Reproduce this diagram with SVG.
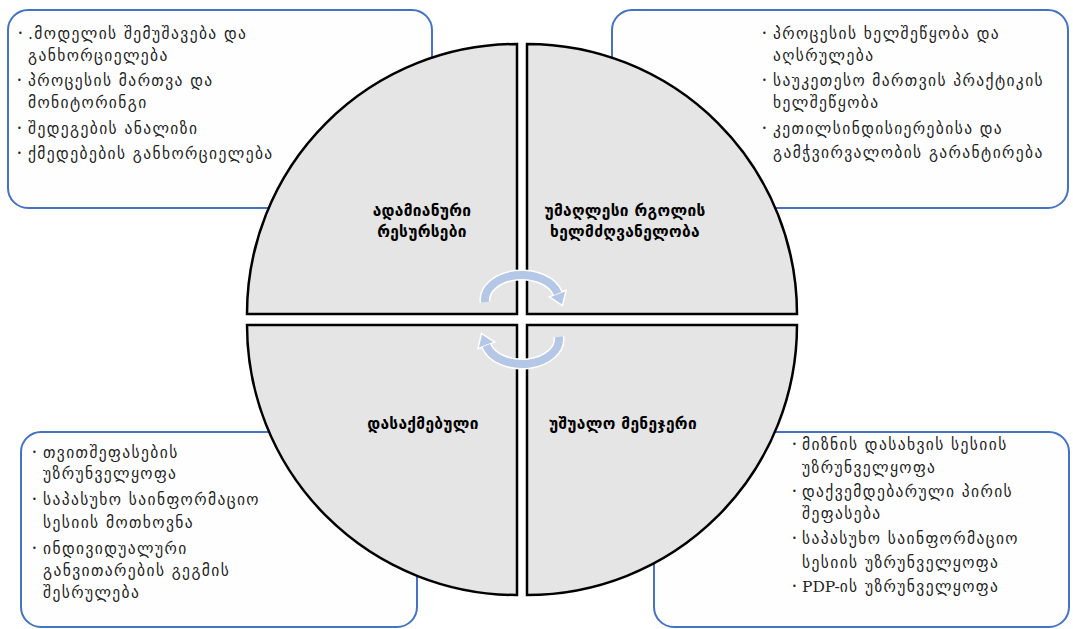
<svg xmlns="http://www.w3.org/2000/svg" width="1073" height="629" viewBox="0 0 1073 629">
<style>
.box{fill:#fefefe;stroke:#4472c4;stroke-width:2}
.q{fill:#e5e5e5;stroke:#000;stroke-width:2.5}
.t{font-family:"DejaVu Sans","Noto Sans",sans-serif;font-size:15.5px;letter-spacing:1.4px;fill:#222}
.s{font-family:"DejaVu Serif","Liberation Serif",serif;letter-spacing:0}
.b{font-family:"DejaVu Sans","Noto Sans",sans-serif;font-size:8px;fill:#222}
.h{font-family:"DejaVu Sans","Noto Sans",sans-serif;font-size:15.5px;font-weight:bold;letter-spacing:0.3px;fill:#000;text-anchor:middle}
.arc{fill:none;stroke:#b4c7e7;stroke-width:8}
.arcw{fill:none;stroke:#fff;stroke-width:11}
</style>
<defs>
<g id="cyc">
<path class="arcw" d="M485.1 302.2 A37 25 0 0 1 557.7 293.5"/>
<polygon points="566.1,290.2 562.5,305.6 549.3,296.8" fill="#b4c7e7" stroke="#fff" stroke-width="1.5"/>
<path class="arc" d="M485.1 302.2 A37 25 0 0 1 557.7 293.5"/>
</g>
</defs>
<g id="box-tl">
<rect class="box" x="8" y="10" width="424" height="198" rx="20"/>
<text class="b" x="18" y="36">•</text>
<text class="t" x="28" y="39">.მოდელის შემუშავება და</text>
<text class="t" x="28" y="61">განხორციელება</text>
<text class="b" x="17" y="83">•</text>
<text class="t" x="28" y="86">პროცესის მართვა და</text>
<text class="t" x="28" y="108">მონიტორინგი</text>
<text class="b" x="17" y="131">•</text>
<text class="t" x="28" y="134">შედეგების ანალიზი</text>
<text class="b" x="17" y="156">•</text>
<text class="t" x="28" y="159">ქმედებების განხორციელება</text>
</g>
<g id="box-tr">
<rect class="box" x="612" y="10" width="456" height="198" rx="20"/>
<text class="b" x="762" y="36">•</text>
<text class="t" x="773" y="39">პროცესის ხელშეწყობა და</text>
<text class="t" x="773" y="61">აღსრულება</text>
<text class="b" x="762" y="83">•</text>
<text class="t" x="773" y="86">საუკეთესო მართვის პრაქტიკის</text>
<text class="t" x="773" y="108">ხელშეწყობა</text>
<text class="b" x="762" y="131">•</text>
<text class="t" x="773" y="134">კეთილსინდისიერებისა და</text>
<text class="t" x="773" y="158">გამჭვირვალობის გარანტირება</text>
</g>
<g id="box-bl">
<rect class="box" x="21" y="432" width="396" height="195" rx="20"/>
<text class="b" x="32" y="455">•</text>
<text class="t" x="43" y="458">თვითშეფასების</text>
<text class="t" x="43" y="479">უზრუნველყოფა</text>
<text class="b" x="32" y="502">•</text>
<text class="t" x="43" y="505">საპასუხო საინფორმაციო</text>
<text class="t" x="43" y="528">სესიის მოთხოვნა</text>
<text class="b" x="32" y="551">•</text>
<text class="t" x="43" y="554">ინდივიდუალური</text>
<text class="t" x="43" y="576">განვითარების გეგმის</text>
<text class="t" x="43" y="598">შესრულება</text>
</g>
<g id="box-br">
<rect class="box" x="654" y="432" width="415" height="195" rx="20"/>
<text class="b" x="792" y="447">•</text>
<text class="t" x="802" y="450">მიზნის დასახვის სესიის</text>
<text class="t" x="802" y="473">უზრუნველყოფა</text>
<text class="b" x="792" y="494">•</text>
<text class="t" x="802" y="497">დაქვემდებარული პირის</text>
<text class="t" x="802" y="519">შეფასება</text>
<text class="b" x="792" y="541">•</text>
<text class="t" x="802" y="544">საპასუხო საინფორმაციო</text>
<text class="t" x="802" y="568">სესიის უზრუნველყოფა</text>
<text class="b" x="792" y="589">•</text>
<text class="t" x="802" y="592"><tspan class="s">PDP-</tspan>ის უზრუნველყოფა</text>
</g>
<g id="q-tl">
<path class="q" d="M517 314 L247 314 A270 270 0 0 1 517 44 Z"/>
<text class="h" x="422" y="216">ადამიანური</text>
<text class="h" x="422" y="237">რესურსები</text>
</g>
<g id="q-tr">
<path class="q" d="M527 314 L527 44 A270 270 0 0 1 797 314 Z"/>
<text class="h" x="625" y="216">უმაღლესი რგოლის</text>
<text class="h" x="625" y="237">ხელმძღვანელობა</text>
</g>
<g id="q-bl">
<path class="q" d="M517 325 L517 595 A270 270 0 0 1 247 325 Z"/>
<text class="h" x="423" y="429">დასაქმებული</text>
</g>
<g id="q-br">
<path class="q" d="M527 325 L797 325 A270 270 0 0 1 527 595 Z"/>
<text class="h" x="623" y="429">უშუალო მენეჯერი</text>
</g>
<g id="connectors">
<use href="#cyc"/>
<use href="#cyc" transform="rotate(180 522 319.5)"/>
</g>
</svg>
